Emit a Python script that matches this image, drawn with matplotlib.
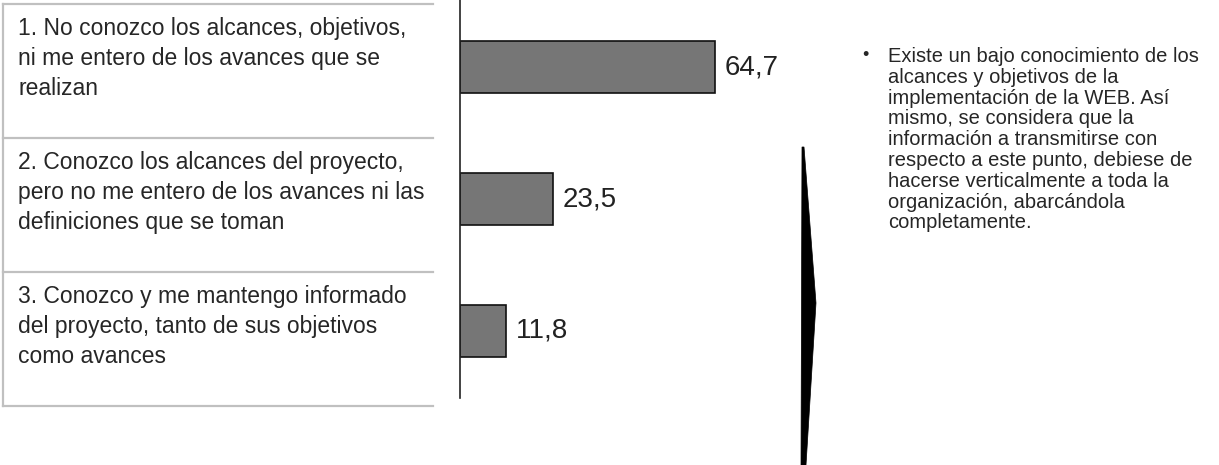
import matplotlib.pyplot as plt
from matplotlib.lines import Line2D
from matplotlib.patches import Polygon

plt.rcParams['font.family'] = ['Liberation Sans', 'DejaVu Sans']

# survey answers and percentages
answers = [
    "1. No conozco los alcances, objetivos,\nni me entero de los avances que se\nrealizan",
    "2. Conozco los alcances del proyecto,\npero no me entero de los avances ni las\ndefiniciones que se toman",
    "3. Conozco y me mantengo informado\ndel proyecto, tanto de sus objetivos\ncomo avances",
]
percent = [64.7, 23.5, 11.8]
value_labels = ["64,7", "23,5", "11,8"]

comment = ("Existe un bajo conocimiento de los\nalcances y objetivos de la\n"
           "implementación de la WEB. Así\nmismo, se considera que la\n"
           "información a transmitirse con\nrespecto a este punto, debiese de\n"
           "hacerse verticalmente a toda la\norganización, abarcándola\n"
           "completamente.")

W, H = 1219, 465
fig = plt.figure(figsize=(W / 100, H / 100), dpi=100)

# bar axes, only the left spine is visible
ax = fig.add_axes([460 / W, 67 / H, 394 / W, 398 / H])
pos = list(range(len(percent)))
ax.barh(pos, percent, height=0.4, color='#767676', edgecolor='#111111', linewidth=1.2)
ax.set_xlim(0, 100)
ax.set_ylim(2.508, -0.508)
for s in ['top', 'right', 'bottom']:
    ax.spines[s].set_visible(False)
ax.spines['left'].set_linewidth(1.2)
ax.spines['left'].set_color('#222222')
ax.set_xticks([])
ax.set_yticks([])
for p, v, lab in zip(pos, percent, value_labels):
    ax.annotate(lab, (v, p), xytext=(7, 0), textcoords='offset points',
                va='center', ha='left', fontsize=20, color='#222222')

# table with the answer texts on the left
grey = '#c0c0c0'
row_px = 134
top_px = 4
fig.add_artist(Line2D([3 / W, 3 / W], [1 - top_px / H, 1 - (top_px + 3 * row_px) / H],
                      color=grey, lw=1.6))
for i in range(len(answers) + 1):
    yy = 1 - (top_px + i * row_px) / H
    fig.add_artist(Line2D([3 / W, 433 / W], [yy, yy], color=grey, lw=1.6))
for i, txt in enumerate(answers):
    fig.text(18 / W, 1 - (top_px + 13 + i * row_px) / H, txt, ha='left', va='top',
             fontsize=16.5, color='#262626', linespacing=1.4)

# black chevron pointing to the comment
chev = [(802, 147), (804, 147), (816, 303), (806, 465), (801, 465)]
fig.add_artist(Polygon([(x / W, 1 - y / H) for x, y in chev], closed=True,
                       facecolor='black', edgecolor='black', lw=0.5))

# bulleted comment on the right
fig.text(862 / W, 1 - 47 / H, "•", ha='left', va='top', fontsize=13, color='#262626')
fig.text(888 / W, 1 - 47 / H, comment, ha='left', va='top', fontsize=14.5,
         color='#262626', linespacing=1.12)

fig.savefig('out.png', dpi=100)
